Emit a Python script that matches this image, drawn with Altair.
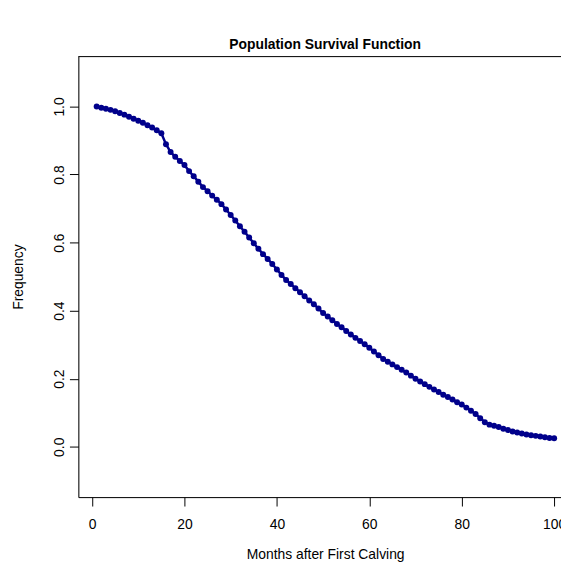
import altair as alt
import pandas as pd

months = list(range(1, 101))
survival = [
    1.000, 0.996, 0.993, 0.990, 0.986, 0.981, 0.976, 0.970, 0.964, 0.958,
    0.952, 0.945, 0.938, 0.930, 0.921, 0.889, 0.866, 0.852, 0.840, 0.828,
    0.810, 0.795, 0.779, 0.763, 0.751, 0.738, 0.726, 0.713, 0.697, 0.681,
    0.665, 0.648, 0.632, 0.615, 0.598, 0.582, 0.566, 0.552, 0.537, 0.521,
    0.505, 0.490, 0.478, 0.466, 0.454, 0.442, 0.430, 0.419, 0.406, 0.393,
    0.383, 0.372, 0.361, 0.351, 0.340, 0.330, 0.320, 0.311, 0.301, 0.291,
    0.280, 0.269, 0.258, 0.250, 0.242, 0.234, 0.226, 0.218, 0.209, 0.200,
    0.192, 0.184, 0.176, 0.168, 0.161, 0.153, 0.146, 0.139, 0.131, 0.124,
    0.115, 0.106, 0.096, 0.084, 0.072, 0.065, 0.062, 0.058, 0.053, 0.049,
    0.045, 0.042, 0.039, 0.036, 0.034, 0.032, 0.030, 0.028, 0.026, 0.025,
]
x_ticks = [0, 20, 40, 60, 80, 100]
y_ticks = [0.0, 0.2, 0.4, 0.6, 0.8, 1.0]

df = pd.DataFrame({"month": months, "surv": survival})

W, H = 487, 445
FONT = "Liberation Sans"
COL = "#00008B"

xs = alt.Scale(domain=[-2.96, 101.48], nice=False, zero=False)
ys = alt.Scale(domain=[-0.148, 1.148], nice=False, zero=False)

x_axis = alt.Axis(
    values=x_ticks, grid=False, tickSize=9, tickColor="black", domainColor="black",
    labelFont=FONT, labelFontSize=14, labelColor="black", labelPadding=12,
    labelFlush=False, labelOverlap=False,
    title="Months after First Calving", titleFont=FONT, titleFontSize=14,
    titleFontWeight="normal", titleColor="black", titleX=249, titleY=58,
    titleBaseline="middle", titleAlign="center",
)
y_axis = alt.Axis(
    values=y_ticks, format=".1f", grid=False, tickSize=9, tickColor="black",
    domainColor="black", labelFont=FONT, labelFontSize=14, labelColor="black",
    labelAngle=-90, labelAlign="center", labelBaseline="middle", labelPadding=10,
    labelFlush=False, labelOverlap=False,
    title="Frequency", titleFont=FONT, titleFontSize=14, titleFontWeight="normal",
    titleColor="black", titleAngle=-90, titleX=-60, titleY=222.5,
    titleBaseline="middle", titleAlign="center",
)

base = alt.Chart(df)
line = base.mark_line(color=COL, strokeWidth=2.5, clip=True).encode(
    x=alt.X("month:Q", scale=xs, axis=x_axis),
    y=alt.Y("surv:Q", scale=ys, axis=y_axis),
)
pts = base.mark_circle(color=COL, size=36, opacity=1, clip=True).encode(
    x=alt.X("month:Q", scale=xs),
    y=alt.Y("surv:Q", scale=ys),
)
top = alt.Chart(pd.DataFrame({"k": [0]})).mark_rule(color="black", strokeWidth=1).encode(
    x=alt.value(0), x2=alt.value(W), y=alt.value(0.5)
)

chart = alt.layer(line, pts, top).properties(
    width=W, height=H,
    title=alt.TitleParams(
        "Population Survival Function", font=FONT, fontSize=14, fontWeight="bold",
        color="black", anchor="middle", dx=5.5, dy=15, offset=5, baseline="bottom",
    ),
    autosize=alt.AutoSizeParams(type="none"),
    padding={"left": 71, "top": 46, "right": 0, "bottom": 70},
).configure_view(stroke=None).configure(background="white")

chart.save("out.html", embed_options={"renderer": "svg", "actions": False})
